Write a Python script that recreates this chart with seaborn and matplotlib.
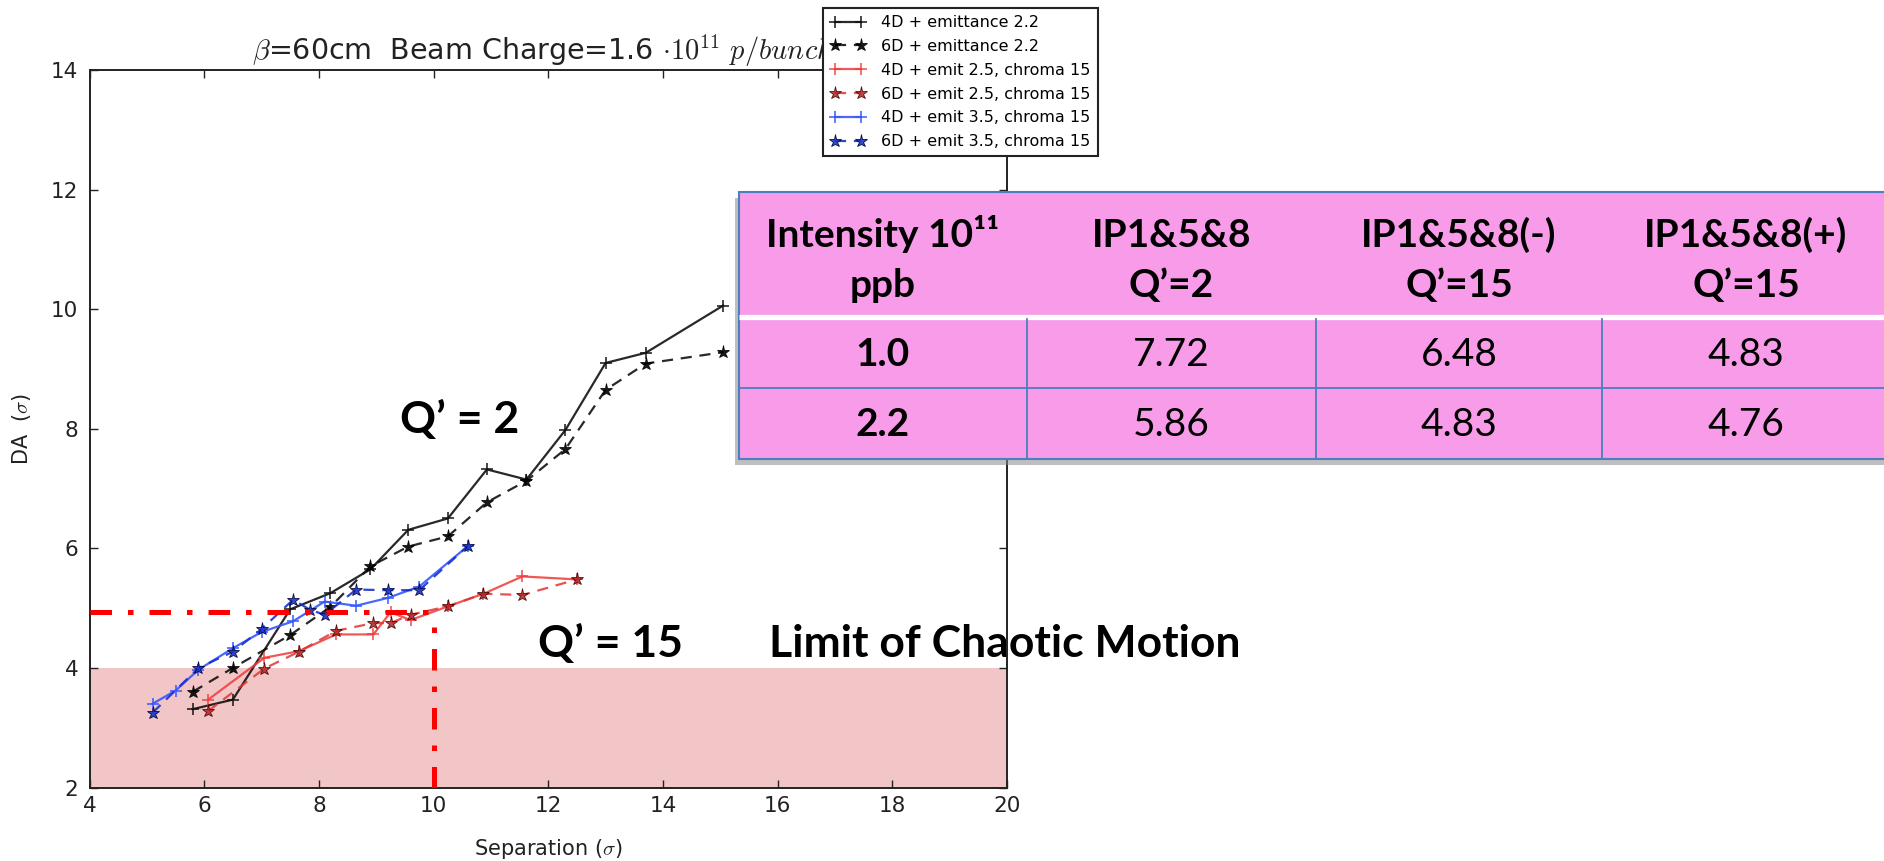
import matplotlib
matplotlib.use("Agg")
import matplotlib.pyplot as plt
import matplotlib.transforms as mtransforms
from matplotlib.patches import Rectangle
import seaborn as sns

# ---------------- data ----------------
sep_black = [5.8, 6.5, 7.5, 8.2, 8.9, 9.56, 10.25, 10.93, 11.62, 12.3, 13.0, 13.7, 15.05]
da_4d_em22 = [3.31, 3.47, 4.98, 5.25, 5.65, 6.31, 6.5, 7.32, 7.15, 7.98, 9.1, 9.27, 10.06]
da_6d_em22 = [3.6, 4.0, 4.55, 5.02, 5.7, 6.03, 6.2, 6.77, 7.13, 7.66, 8.65, 9.09, 9.28]

sep_red = [6.07, 7.05, 7.65, 8.3, 8.95, 9.25, 9.6, 10.25, 10.87, 11.55, 12.5]
da_4d_em25 = [3.47, 4.17, 4.28, 4.56, 4.56, 4.93, 4.8, 5.03, 5.24, 5.53, 5.48]
da_6d_em25 = [3.28, 3.99, 4.27, 4.62, 4.75, 4.75, 4.89, 5.03, 5.24, 5.22, 5.48]

sep_blue_4d = [5.1, 5.5, 5.9, 6.5, 7.0, 7.55, 8.1, 8.65, 9.2, 9.75, 10.6]
da_4d_em35 = [3.4, 3.62, 3.97, 4.33, 4.6, 4.78, 5.11, 5.04, 5.17, 5.36, 6.04]
sep_blue_6d = [5.1, 5.9, 6.5, 7.0, 7.55, 7.85, 8.1, 8.65, 9.2, 9.75, 10.6]
da_6d_em35 = [3.25, 4.0, 4.27, 4.65, 5.14, 4.97, 4.89, 5.31, 5.3, 5.3, 6.04]

labels = ["4D + emittance 2.2", "6D + emittance 2.2",
          "4D + emit 2.5, chroma 15", "6D + emit 2.5, chroma 15",
          "4D + emit 3.5, chroma 15", "6D + emit 3.5, chroma 15"]

chaos_band = (2, 4)
limit_sep = 10.0
limit_da = 4.93

x_ticks = [4, 6, 8, 10, 12, 14, 16, 18, 20]
y_ticks = [2, 4, 6, 8, 10, 12, 14]

title_main = r"$\beta$=60cm  Beam Charge=1.6 $\cdot10^{11}\ p/bunch$"

table_header = [["Intensity 10¹¹", "ppb"], ["IP1&5&8", "Q’=2"],
                ["IP1&5&8(-)", "Q’=15"], ["IP1&5&8(+)", "Q’=15"]]
intensity = ["1.0", "2.2"]
da_q2 = ["7.72", "5.86"]
da_q15_minus = ["6.48", "4.83"]
da_q15_plus = ["4.83", "4.76"]

# ---------------- figure ----------------
plt.rcParams["mathtext.fontset"] = "cm"
plt.rcParams["font.family"] = ["DejaVu Sans"]
W, H = 1884, 861
fig = plt.figure(figsize=(W / 100, H / 100), dpi=100)
fig.patch.set_facecolor("white")
ax = fig.add_axes([89.5 / W, 1 - 787.5 / H, (1007 - 89.5) / W, (787.5 - 70) / H])

ax.axhspan(chaos_band[0], chaos_band[1], color="#f2c5c6", zorder=0.5, lw=0)

def series(x, y, label, color, ls, marker, mfc, mec, ms, mew, lw=1.6, alpha=0.9):
    sns.lineplot(x=x, y=y, ax=ax, color=color, linestyle=ls, marker=marker,
                 markerfacecolor=mfc, markeredgecolor=mec, markersize=ms,
                 markeredgewidth=mew, linewidth=lw, label=label,
                 estimator=None, sort=False, alpha=alpha)

dash = (0, (5.0, 3.5))
series(sep_black, da_4d_em22, labels[0], "#111111", "-", "+", "#111111", "#111111", 9, 1.2)
series(sep_black, da_6d_em22, labels[1], "#111111", dash, "*", "#000000", "#000000", 9.5, 0.6)
series(sep_red, da_4d_em25, labels[2], "#f03a3a", "-", "+", "#f03a3a", "#f03a3a", 9, 1.2, alpha=0.85)
series(sep_red, da_6d_em25, labels[3], "#e23434", dash, "*", "#b52222", "#3a0000", 9.5, 0.6, alpha=0.85)
series(sep_blue_4d, da_4d_em35, labels[4], "#3356ff", "-", "+", "#3356ff", "#3356ff", 9, 1.2, alpha=0.9)
series(sep_blue_6d, da_6d_em35, labels[5], "#1a30d0", dash, "*", "#1a35c8", "#000033", 9.5, 0.6, alpha=0.9)

# limit lines (dash-dot)
dd = (0, (4.3, 3.2, 1.1, 3.2))
ax.plot([4, limit_sep], [limit_da, limit_da], color="red", lw=3.6, linestyle=dd,
        dash_capstyle="butt", zorder=4, clip_on=False)
ax.plot([limit_sep, limit_sep], [chaos_band[0], limit_da], color="red", lw=3.6, linestyle=dd,
        dash_capstyle="butt", zorder=4)

ax.set_xlim(4, 20)
ax.set_ylim(2, 14)
ax.set_xticks(x_ticks)
ax.set_yticks(y_ticks)
ax.tick_params(direction="in", length=6, width=1, top=True, right=True,
               labelsize=15.5, colors="#222222")
ax.tick_params(axis="x", pad=6)
ax.tick_params(axis="y", pad=8)
for s in ax.spines.values():
    s.set_linewidth(1.4)
    s.set_color("#222222")
ax.set_xlabel(r"Separation ($\sigma$)", fontsize=15, labelpad=15, color="#222222")
ax.set_ylabel(r"DA  ($\sigma$)", fontsize=15, labelpad=13, color="#222222")

trans = mtransforms.blended_transform_factory(ax.transData, ax.transAxes)
ax.text(6.83, (787.5 - 60) / 717.5, title_main, transform=trans, fontsize=20.5,
        ha="left", va="baseline", color="#222222", zorder=3)

# annotations
afont = dict(family="Lato", weight="bold", fontsize=32, color="black", zorder=2)
ax.text(9.42, 7.93, "Q’ = 2", ha="left", va="baseline", **afont)
ax.text(11.82, 4.19, "Q’ = 15", ha="left", va="baseline", **afont)
ax.text(15.85, 4.19, "Limit of Chaotic Motion", ha="left", va="baseline", **afont)

leg = ax.legend(loc="upper left", bbox_to_anchor=(823 / W, 1 - 8 / H),
                bbox_transform=fig.transFigure, borderaxespad=0, fontsize=11.5,
                numpoints=2, handlelength=2.2, handletextpad=1.0, borderpad=0.45,
                labelspacing=0.55, fancybox=False, framealpha=1, edgecolor="#222222")
leg.get_frame().set_linewidth(1.5)
leg.set_zorder(10)

# ---------------- table ----------------
tax = fig.add_axes([730 / W, 1 - 470 / H, (W - 730) / W, (470 - 185) / H])
tax.set_xlim(730, W)
tax.set_ylim(470, 185)
tax.axis("off")
tax.set_zorder(20)
tl, tt, tr, tb = 739, 192, 1890, 459
pink = "#f89be9"
border = "#4a80c0"
tax.add_patch(Rectangle((tl - 4, tt + 6), tr - tl, tb - tt, facecolor="#8c8c8c",
                        alpha=0.55, lw=0))
tax.add_patch(Rectangle((tl, tt), tr - tl, tb - tt, facecolor=pink,
                        edgecolor=border, lw=1.5))
col_edges = [739, 1027, 1316, 1602, 1890]
tax.plot([tl, tr], [317, 317], color="white", lw=3.8, solid_capstyle="butt")
tax.plot([tl, tr], [388, 388], color=border, lw=1.3)
for cx in col_edges[1:-1]:
    tax.plot([cx, cx], [319.5, tb], color=border, lw=1.3)
centers = [(col_edges[i] + col_edges[i + 1]) / 2 for i in range(4)]
tfont = dict(family="Lato", fontsize=28, color="black", ha="center", va="baseline")
for c, (l1, l2) in zip(centers, table_header):
    tax.text(c, 247, l1, weight="bold", **tfont)
    tax.text(c, 297, l2, weight="bold", **tfont)
row_base = [366, 436]
for r in range(2):
    tax.text(centers[0], row_base[r], intensity[r], weight="bold", **tfont)
    tax.text(centers[1], row_base[r], da_q2[r], **tfont)
    tax.text(centers[2], row_base[r], da_q15_minus[r], **tfont)
    tax.text(centers[3], row_base[r], da_q15_plus[r], **tfont)

fig.savefig("out.png", dpi=100)
